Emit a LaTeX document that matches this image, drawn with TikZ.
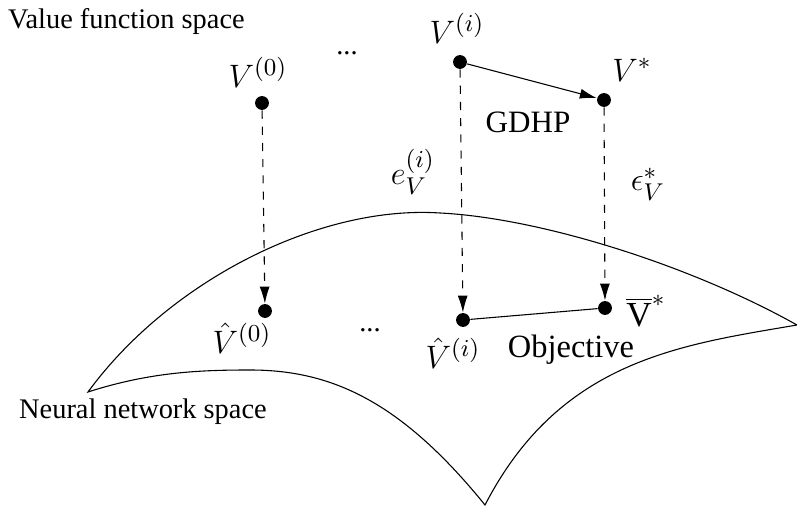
\documentclass[tikz,border=0pt]{standalone}
\usepackage{fontspec}
\setmainfont{Liberation Serif}
\usetikzlibrary{arrows.meta, positioning}

\begin{document}
\begin{tikzpicture}[
    x=0.013cm, y=-0.013cm, >={Latex[length=2.2mm, width=1.3mm]},
    dot/.style={circle, fill, inner sep=0pt, minimum size=0.18cm},
    lbl/.style={inner sep=1pt, font=\fontsize{13}{15}\selectfont},
    txt/.style={inner sep=1pt, font=\fontsize{10.5}{12}\selectfont}
  ]
  \useasboundingbox (0,0) rectangle (797,507);

  % neural network surface
  \draw (88,392) .. controls (170,280) and (320,205) .. (440,213)
                 .. controls (540,218) and (690,265) .. (797,325)
                 .. controls (680,345) and (560,360) .. (485,505)
                 .. controls (400,400) and (330,370) .. (250,370)
                 .. controls (200,370) and (150,372) .. cycle;

  % value function space
  \node[txt, anchor=west] (vfs) at (5,22) {Value function space};
  \node[dot] (v0) at (262,103) {};
  \node[dot] (vi) at (460,62) {};
  \node[dot] (vs) at (604,100) {};
  \node[lbl] (v0l) at (258,72) {$V^{(0)}$};
  \node[lbl] (vil) at (457,28) {$V^{(i)}$};
  \node[lbl] (vsl) at (632,70) {$V^{*}$};
  \node[txt] (dtop) at (347,53) {...};
  \node[txt, font=\fontsize{11.5}{13}\selectfont] (gdhp) at (528,122) {GDHP};

  % neural network space
  \node[txt, anchor=west] (nns) at (16,412) {Neural network space};
  \node[dot] (h0) at (265,311) {};
  \node[dot] (hi) at (463,320) {};
  \node[dot] (hs) at (605,308) {};
  \node[lbl] (h0l) at (242,338) {$\hat{V}^{(0)}$};
  \node[lbl] (hil) at (453,353) {$\hat{V}^{(i)}$};
  \node[lbl] (hsl) at (646,311) {$\overline{\mathrm{V}}^{*}$};
  \node[txt] (dbot) at (370,330) {...};
  \node[txt, font=\fontsize{12}{14}\selectfont] (obj) at (571,350) {Objective};

  % errors
  \node[lbl] (ei) at (413,172) {$e_V^{(i)}$};
  \node[lbl] (es) at (648,184) {$\epsilon_V^{*}$};

  \draw[->] (vi) -- (vs);
  \draw (hi) -- (hs);
  \draw[->, dashed] (v0) -- (h0);
  \draw[->, dashed] (vi) -- (hi);
  \draw[->, dashed] (vs) -- (hs);
\end{tikzpicture}
\end{document}
